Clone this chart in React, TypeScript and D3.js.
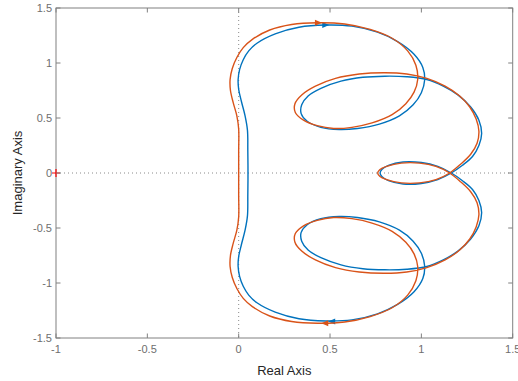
import { useEffect, useRef } from 'react';
import * as d3 from 'd3';

// one branch (Re, Im), from the point on the real axis near the origin round to the small loop;
// the other branch is its mirror image in the real axis
const orangeRe = [0, 0, 0, -0.01, -0.03, -0.045, -0.047, -0.035, -0.01, 0.025, 0.075, 0.17, 0.29, 0.432, 0.58, 0.72, 0.84, 0.925, 0.97, 0.98, 0.96, 0.915, 0.84, 0.73, 0.62, 0.52, 0.43, 0.355, 0.31, 0.308, 0.345, 0.42, 0.53, 0.66, 0.8, 0.92, 1.03, 1.13, 1.21, 1.265, 1.3, 1.315, 1.305, 1.27, 1.215, 1.155, 1.08, 0.99, 0.89, 0.81, 0.772, 0.761];
const orangeIm = [0, 0.2, 0.4, 0.52, 0.64, 0.75, 0.85, 0.95, 1.05, 1.14, 1.215, 1.3, 1.35, 1.366, 1.355, 1.305, 1.225, 1.11, 0.98, 0.85, 0.735, 0.63, 0.53, 0.455, 0.415, 0.405, 0.43, 0.48, 0.55, 0.63, 0.71, 0.79, 0.86, 0.9, 0.912, 0.9, 0.86, 0.79, 0.7, 0.6, 0.49, 0.38, 0.27, 0.17, 0.08, 0, -0.06, -0.09, -0.09, -0.06, -0.03, 0];

const blueRe = [0.051, 0.05, 0.048, 0.035, 0.015, 0, -0.003, 0.005, 0.025, 0.055, 0.1, 0.2, 0.33, 0.476, 0.62, 0.76, 0.87, 0.96, 1.008, 1.018, 1.0, 0.955, 0.88, 0.77, 0.65, 0.55, 0.45, 0.375, 0.342, 0.345, 0.38, 0.45, 0.56, 0.68, 0.8, 0.92, 1.03, 1.12, 1.2, 1.27, 1.315, 1.33, 1.315, 1.28, 1.225, 1.164, 1.09, 1.0, 0.9, 0.82, 0.785, 0.774];
const blueIm = [0, 0.2, 0.39, 0.52, 0.65, 0.76, 0.85, 0.94, 1.03, 1.11, 1.18, 1.265, 1.325, 1.345, 1.335, 1.28, 1.195, 1.08, 0.96, 0.845, 0.73, 0.62, 0.52, 0.445, 0.405, 0.395, 0.415, 0.47, 0.54, 0.62, 0.7, 0.77, 0.835, 0.87, 0.88, 0.875, 0.85, 0.79, 0.71, 0.6, 0.48, 0.36, 0.25, 0.15, 0.07, 0, -0.06, -0.095, -0.1, -0.07, -0.035, 0];

// arrow markers: [re, im, direction]
const orangeArrows = [[0.434, 1.366, 1], [0.474, -1.366, -1]];
const blueArrows = [[0.474, 1.345, 1], [0.512, -1.35, -1]];

const xTicks = [-1, -0.5, 0, 0.5, 1, 1.5];
const yTicks = [-1.5, -1, -0.5, 0, 0.5, 1, 1.5];

const BLUE = '#0072BD';
const ORANGE = '#D95319';

export default function App() {
  const svgRef = useRef(null);

  useEffect(() => {
    const svg = d3.select(svgRef.current);
    svg.selectAll('*').remove();

    const left = 56, right = 512.7, top = 8, bottom = 338;
    const x = d3.scaleLinear().domain([-1, 1.5]).range([left, right]);
    const y = d3.scaleLinear().domain([-1.5, 1.5]).range([bottom, top]);

    const font = 'Helvetica, Arial, "Liberation Sans", sans-serif';

    // zero lines
    svg.append('line')
      .attr('x1', left).attr('x2', right)
      .attr('y1', y(0)).attr('y2', y(0))
      .attr('stroke', '#8a8a8a').attr('stroke-width', 1)
      .attr('stroke-dasharray', '1 3');
    svg.append('line')
      .attr('x1', x(0)).attr('x2', x(0))
      .attr('y1', top).attr('y2', bottom)
      .attr('stroke', '#8a8a8a').attr('stroke-width', 1)
      .attr('stroke-dasharray', '1 3');

    const line = d3.line().x(d => x(d[0])).y(d => y(d[1])).curve(d3.curveCatmullRomClosed.alpha(0.5));

    const drawCurve = (re, im, color, arrows) => {
      const branch = re.map((r, i) => [r, im[i]]);
      // mirrored branch, walked back, without the two shared points on the real axis
      const mirror = branch.slice(1, -1).reverse().map(p => [p[0], -p[1]]);
      svg.append('path')
        .attr('d', line(branch.concat(mirror)))
        .attr('fill', 'none')
        .attr('stroke', color)
        .attr('stroke-width', 1.4);
      arrows.forEach(a => {
        const cx = x(a[0]), cy = y(a[1]), dir = a[2];
        svg.append('path')
          .attr('d', `M${cx + 4 * dir},${cy} L${cx - 3 * dir},${cy - 3} L${cx - 3 * dir},${cy + 3} Z`)
          .attr('fill', color);
      });
    };

    drawCurve(blueRe, blueIm, BLUE, blueArrows);
    drawCurve(orangeRe, orangeIm, ORANGE, orangeArrows);

    // box
    svg.append('rect')
      .attr('x', left).attr('y', top)
      .attr('width', right - left).attr('height', bottom - top)
      .attr('fill', 'none').attr('stroke', '#808080').attr('stroke-width', 1);

    // critical point
    svg.append('path')
      .attr('d', `M${x(-1) - 4},${y(0)} H${x(-1) + 4} M${x(-1)},${y(0) - 4} V${y(0) + 4}`)
      .attr('stroke', '#ff0000').attr('stroke-width', 1.2);

    // ticks (inward, on all four sides)
    const tl = 4.5;
    xTicks.forEach(t => {
      svg.append('line').attr('x1', x(t)).attr('x2', x(t)).attr('y1', bottom).attr('y2', bottom - tl).attr('stroke', '#808080');
      svg.append('line').attr('x1', x(t)).attr('x2', x(t)).attr('y1', top).attr('y2', top + tl).attr('stroke', '#808080');
      svg.append('text')
        .attr('x', x(t)).attr('y', bottom + 15)
        .attr('text-anchor', 'middle')
        .attr('font-family', font).attr('font-size', 11)
        .attr('fill', '#6e6e6e')
        .text(t);
    });
    yTicks.forEach(t => {
      svg.append('line').attr('x1', left).attr('x2', left + tl).attr('y1', y(t)).attr('y2', y(t)).attr('stroke', '#808080');
      svg.append('line').attr('x1', right).attr('x2', right - tl).attr('y1', y(t)).attr('y2', y(t)).attr('stroke', '#808080');
      svg.append('text')
        .attr('x', left - 4).attr('y', y(t)).attr('dy', '0.35em')
        .attr('text-anchor', 'end')
        .attr('font-family', font).attr('font-size', 11)
        .attr('fill', '#6e6e6e')
        .text(t);
    });

    // axis labels
    svg.append('text')
      .attr('x', (left + right) / 2).attr('y', 375)
      .attr('text-anchor', 'middle')
      .attr('font-family', font).attr('font-size', 13)
      .attr('fill', '#262626')
      .text('Real Axis');
    svg.append('text')
      .attr('transform', `translate(22,${(top + bottom) / 2}) rotate(-90)`)
      .attr('text-anchor', 'middle')
      .attr('font-family', font).attr('font-size', 13)
      .attr('fill', '#262626')
      .text('Imaginary Axis');
  }, []);

  return (
    <svg ref={svgRef} width={518} height={381}
      style={{ position: 'absolute', left: 0, top: 0, background: '#fff' }} />
  );
}
